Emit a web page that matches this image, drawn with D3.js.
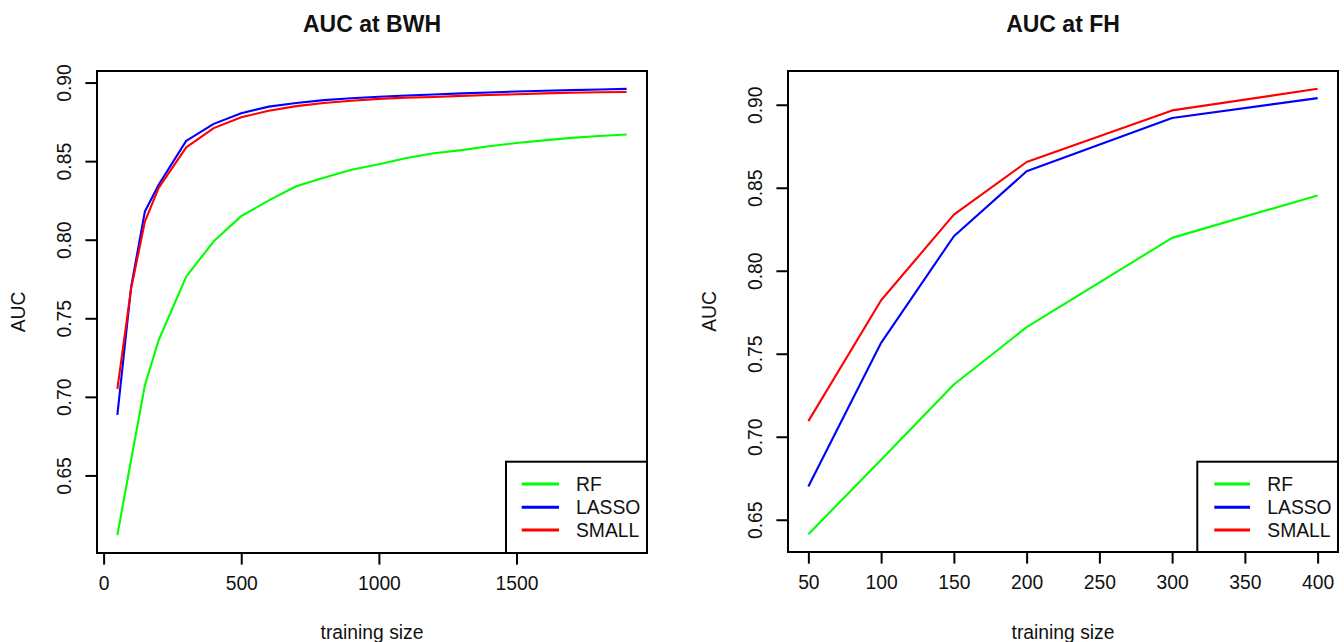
<!DOCTYPE html>
<html>
<head>
<meta charset="utf-8">
<script src="https://cdn.jsdelivr.net/npm/d3@7"></script>
<style>
  html, body { margin: 0; padding: 0; background: #fff; }
  svg { display: block; font-family: "Liberation Sans", Arial, sans-serif; }
</style>
</head>
<body>
<svg id="chart" width="1344" height="642"></svg>
<script>
// ---------- data ----------
const seriesNames = ["RF", "LASSO", "SMALL"];
const seriesColors = ["#00ff00", "#0000ff", "#ff0000"];

const bwhTitle = "AUC at BWH";
const bwhX = [50, 100, 150, 200, 300, 400, 500, 600, 700, 800, 900, 1000, 1100, 1200, 1300, 1400, 1500, 1600, 1700, 1800, 1900];
const bwhRF = [0.612, 0.660, 0.7075, 0.736, 0.7765, 0.799, 0.815, 0.825, 0.834, 0.8395, 0.8445, 0.848, 0.852, 0.855, 0.857, 0.8595, 0.8615, 0.8632, 0.8648, 0.866, 0.867];
const bwhLASSO = [0.6885, 0.770, 0.818, 0.835, 0.8629, 0.8737, 0.8805, 0.8847, 0.8870, 0.8888, 0.8900, 0.8910, 0.8918, 0.8924, 0.8931, 0.8937, 0.8943, 0.8948, 0.8952, 0.8956, 0.896];
const bwhSMALL = [0.7050, 0.769, 0.8115, 0.833, 0.8588, 0.8710, 0.8779, 0.8821, 0.8850, 0.8870, 0.8884, 0.8896, 0.8904, 0.8908, 0.8915, 0.8921, 0.8926, 0.8931, 0.8935, 0.8938, 0.894];
const bwhXTicks = [0, 500, 1000, 1500];
const bwhYTicks = [0.65, 0.70, 0.75, 0.80, 0.85, 0.90];

const fhTitle = "AUC at FH";
const fhX = [50, 100, 150, 200, 300, 400];
const fhRF = [0.6413, 0.6861, 0.7315, 0.766, 0.8198, 0.8454];
const fhLASSO = [0.670, 0.7566, 0.8208, 0.8599, 0.892, 0.904];
const fhSMALL = [0.7094, 0.7822, 0.8338, 0.8655, 0.8966, 0.9096];
const fhXTicks = [50, 100, 150, 200, 250, 300, 350, 400];
const fhYTicks = [0.65, 0.70, 0.75, 0.80, 0.85, 0.90];

const xLabel = "training size";
const yLabel = "AUC";

// ---------- drawing ----------
const svg = d3.select("#chart");
const FS = 19.3;      // label font size
const TFS = 23;       // title font size
const TICK = 11.6;
const textColor = "#111";

function rRange(vals) {
  const [lo, hi] = d3.extent(vals);
  const pad = (hi - lo) * 0.04;
  return [lo - pad, hi + pad];
}

function panel(opt) {
  const { left, right, top, bottom, title, xs, ys, xTicks, yTicks, legendLeft, legendLineX0, legendLineX1, legendTextX } = opt;
  const g = svg.append("g");
  const x = d3.scaleLinear().domain(rRange(xs)).range([left, right]);
  const y = d3.scaleLinear().domain(rRange(ys.flat())).range([bottom, top]);

  // lines
  const line = d3.line().x((d, i) => x(xs[i])).y(d => y(d));
  ys.forEach((vals, k) => {
    g.append("path")
      .attr("d", line(vals))
      .attr("fill", "none")
      .attr("stroke", seriesColors[k])
      .attr("stroke-width", 2.1)
      .attr("stroke-linejoin", "round");
  });

  // x axis
  const xa = g.append("g").attr("transform", `translate(0,${bottom})`)
    .call(d3.axisBottom(x).tickValues(xTicks).tickSize(TICK).tickPadding(0).tickFormat(d3.format("d")));
  xa.select(".domain").remove();
  xa.selectAll(".tick line").attr("stroke", "#000").attr("stroke-width", 2);
  xa.selectAll(".tick text")
    .attr("y", 37).attr("dy", null)
    .attr("font-size", FS).attr("font-family", "Liberation Sans, Arial, sans-serif")
    .attr("fill", textColor);

  // y axis
  const ya = g.append("g").attr("transform", `translate(${left},0)`)
    .call(d3.axisLeft(y).tickValues(yTicks).tickSize(TICK).tickFormat(d3.format(".2f")));
  ya.select(".domain").remove();
  ya.selectAll(".tick line").attr("stroke", "#000").attr("stroke-width", 2);
  ya.selectAll(".tick text")
    .attr("x", null).attr("dy", null)
    .attr("transform", "translate(-25.8,0) rotate(-90)")
    .attr("text-anchor", "middle")
    .attr("font-size", FS).attr("font-family", "Liberation Sans, Arial, sans-serif")
    .attr("fill", textColor);

  // box
  g.append("rect")
    .attr("x", left).attr("y", top)
    .attr("width", right - left).attr("height", bottom - top)
    .attr("fill", "none").attr("stroke", "#000").attr("stroke-width", 2);

  // title
  g.append("text")
    .attr("x", (left + right) / 2).attr("y", 31.5)
    .attr("text-anchor", "middle")
    .attr("font-size", TFS).attr("font-weight", "bold")
    .attr("fill", textColor)
    .text(title);

  // x label
  g.append("text")
    .attr("x", (left + right) / 2).attr("y", 639)
    .attr("text-anchor", "middle")
    .attr("font-size", FS).attr("fill", textColor)
    .text(xLabel);

  // y label
  g.append("text")
    .attr("transform", `translate(${left - 72},${(top + bottom) / 2}) rotate(-90)`)
    .attr("text-anchor", "middle")
    .attr("font-size", FS).attr("fill", textColor)
    .text(yLabel);

  // legend
  const legTop = 461.7;
  g.append("rect")
    .attr("x", legendLeft).attr("y", legTop)
    .attr("width", right - legendLeft).attr("height", bottom - legTop)
    .attr("fill", "#fff").attr("stroke", "#000").attr("stroke-width", 2);
  const rowY = [484, 507.3, 530];
  seriesNames.forEach((name, k) => {
    g.append("line")
      .attr("x1", legendLineX0).attr("x2", legendLineX1)
      .attr("y1", rowY[k]).attr("y2", rowY[k])
      .attr("stroke", seriesColors[k]).attr("stroke-width", 3);
    g.append("text")
      .attr("x", legendTextX).attr("y", rowY[k] + 7)
      .attr("font-size", FS).attr("fill", textColor)
      .text(name);
  });
}

panel({
  left: 97, right: 647, top: 71, bottom: 553,
  title: bwhTitle, xs: bwhX, ys: [bwhRF, bwhLASSO, bwhSMALL],
  xTicks: bwhXTicks, yTicks: bwhYTicks,
  legendLeft: 506, legendLineX0: 521.7, legendLineX1: 559, legendTextX: 576
});

panel({
  left: 788, right: 1338, top: 71, bottom: 552,
  title: fhTitle, xs: fhX, ys: [fhRF, fhLASSO, fhSMALL],
  xTicks: fhXTicks, yTicks: fhYTicks,
  legendLeft: 1197.3, legendLineX0: 1214.3, legendLineX1: 1250, legendTextX: 1267.3
});
</script>
</body>
</html>
